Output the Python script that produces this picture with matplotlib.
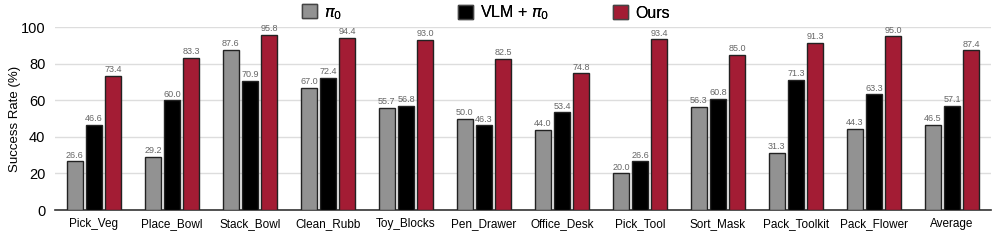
import numpy as np
import matplotlib
matplotlib.use("Agg")
import matplotlib.pyplot as plt
from matplotlib.patches import Patch

plt.rcParams['font.family'] = ['Liberation Sans', 'DejaVu Sans']

# Data
tasks = ['Pick_Veg', 'Place_Bowl', 'Stack_Bowl', 'Clean_Rubb', 'Toy_Blocks', 'Pen_Drawer',
         'Office_Desk', 'Pick_Tool', 'Sort_Mask', 'Pack_Toolkit', 'Pack_Flower', 'Average']
pi0 = [26.6, 29.2, 87.6, 67.0, 55.7, 50.0, 44.0, 20.0, 56.3, 31.3, 44.3, 46.5]
vlm_pi0 = [46.6, 60.0, 70.9, 72.4, 56.8, 46.3, 53.4, 26.6, 60.8, 71.3, 63.3, 57.1]
ours = [73.4, 83.3, 95.8, 94.4, 93.0, 82.5, 74.8, 93.4, 85.0, 91.3, 95.0, 87.4]
series_names = [r'$\pi_0$', r'VLM + $\pi_0$', 'Ours']
yticks = [0, 20, 40, 60, 80, 100]

colors = ['#929292', '#000000', '#A31C34']

fig = plt.figure(figsize=(9.96, 2.4), dpi=100)
ax = fig.add_axes([0.0552, 0.125, 0.9398, 0.761])

x = np.arange(len(tasks))
width = 0.205
offset = 0.245

for i, (vals, name, c) in enumerate(zip([pi0, vlm_pi0, ours], series_names, colors)):
    bars = ax.bar(x + (i - 1) * offset, vals, width, color=c, edgecolor='#222222',
                  linewidth=1.0, label=name, zorder=3)
    for b, v in zip(bars, vals):
        ax.text(b.get_x() + b.get_width() / 2, v + 1.0, f'{v:.1f}', ha='center', va='bottom',
                fontsize=6.5, color='#666666', zorder=4, clip_on=False)

ax.set_xlim(-0.5, 11.5)
ax.set_ylim(0, 100)
ax.set_yticks(yticks)
ax.set_xticks(x)
ax.set_xticklabels(tasks, fontsize=8.5)
ax.tick_params(axis='y', labelsize=10.5, length=0, pad=7)
ax.tick_params(axis='x', length=0, pad=6)
ax.set_ylabel('Success Rate (%)', fontsize=9.5)
ax.yaxis.set_label_coords(-0.036, 0.5)
ax.grid(axis='y', color='#dddddd', linewidth=1, zorder=0)
for s in ['top', 'right', 'left']:
    ax.spines[s].set_visible(False)
ax.spines['bottom'].set_color('#333333')
ax.spines['bottom'].set_linewidth(1.2)

# legend entries placed as equal-width columns
legend_x = [302, 458, 613]
for lx, name, c in zip(legend_x, series_names, colors):
    h = Patch(facecolor=c, edgecolor='#444444', linewidth=1.0)
    leg = fig.legend([h], [name], loc='center left', bbox_to_anchor=(lx / 996, 1 - 13 / 240),
                     frameon=False, fontsize=11.5, handlelength=0.95, handleheight=0.95,
                     handletextpad=0.45, borderpad=0, borderaxespad=0)
    fig.add_artist(leg)

fig.savefig('out.png', dpi=100)
